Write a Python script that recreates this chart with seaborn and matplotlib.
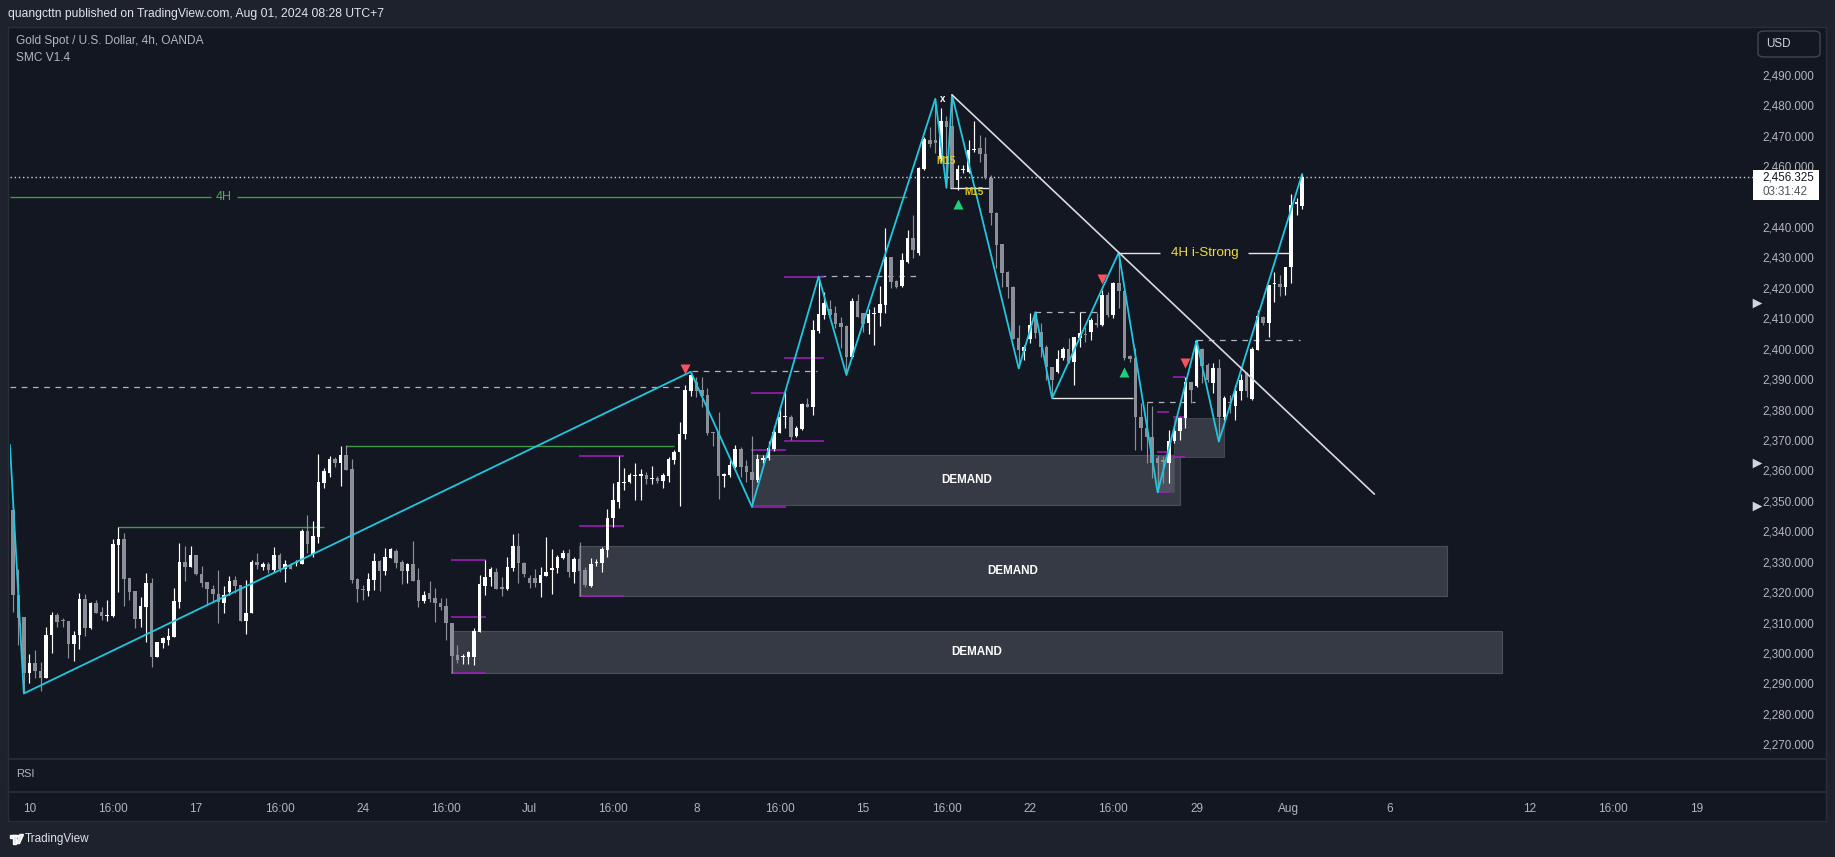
import numpy as np
import pandas as pd
import matplotlib
matplotlib.use("Agg")
import matplotlib.pyplot as plt
import matplotlib.transforms as mtransforms
from matplotlib.lines import Line2D
from matplotlib.patches import Rectangle, FancyBboxPatch, Polygon, Circle
import seaborn as sns

# ===================== canvas / colours =====================
W, H, DPI = 1835, 857, 100
BG_OUT = "#1e222d"
BG_CHART = "#131722"
EDGE = "#2a2e39"
TXT = "#b2b5be"
C_UP = "#ffffff"
C_DN = "#8c8f98"
CYAN = "#1ec8e0"
GREEN = "#3f9b48"
MAGENTA = "#a31fc0"
DASH = "#b2b5be"
ZONE = "#363a45"
ZONE_EDGE = "#4a4e5a"
YELLOW = "#f2dc3a"

# ===================== data =====================
# 4h candles, bar index 0 = first visible candle
OPEN = [
    2347.0, 2319.1, 2311.7, 2293.5, 2296.6, 2294.2, 2291.9, 2305.9, 2312.5, 2310.6,
    2310.5, 2302.9, 2305.9, 2317.7, 2308.1, 2316.5, 2313.4, 2312.3, 2312.3, 2335.5,
    2337.3, 2324.5, 2320.5, 2311.2, 2315.2, 2322.9, 2298.8, 2303.4, 2304.3, 2305.4,
    2316.9, 2329.9, 2328.4, 2332.2, 2325.9, 2323.3, 2321.0, 2319.3, 2316.5, 2319.9,
    2324.0, 2322.3, 2310.6, 2313.2, 2329.9, 2328.4, 2329.2, 2327.3, 2332.2, 2327.7,
    2328.9, 2329.5, 2329.3, 2340.1, 2332.5, 2338.2, 2356.0, 2359.2, 2363.7, 2362.5,
    2365.0, 2360.3, 2324.2, 2320.7, 2320.5, 2324.0, 2330.2, 2327.0, 2331.3, 2333.6,
    2329.9, 2327.0, 2329.2, 2324.0, 2317.1, 2319.6, 2318.0, 2316.3, 2315.4, 2309.7,
    2299.3, 2298.7, 2298.6, 2298.6, 2307.0, 2322.1, 2324.9, 2326.7, 2321.6, 2320.9,
    2327.8, 2335.2, 2329.5, 2324.5, 2324.5, 2323.1, 2325.3, 2327.3, 2327.8, 2331.3,
    2332.7, 2326.7, 2330.8, 2327.3, 2322.0, 2329.6, 2329.7, 2333.8, 2344.2, 2349.7,
    2355.8, 2356.2, 2358.0, 2358.2, 2358.5, 2357.2, 2357.5, 2356.6, 2358.2, 2363.4,
    2366.2, 2371.9, 2386.2, 2389.2, 2386.4, 2384.8, 2372.4, 2372.7, 2358.2, 2358.6,
    2361.2, 2366.9, 2361.4, 2359.6, 2356.8, 2363.4, 2364.2, 2367.0, 2372.4, 2377.4,
    2377.7, 2371.3, 2373.6, 2381.7, 2380.9, 2405.9, 2411.1, 2412.9, 2411.8, 2408.5,
    2407.5, 2397.4, 2415.7, 2411.6, 2408.3, 2411.4, 2411.8, 2414.4, 2430.2, 2422.2,
    2420.7, 2428.6, 2436.3, 2431.3, 2458.9, 2468.6, 2468.6, 2462.3, 2474.9, 2473.2,
    2455.4, 2458.6, 2458.2, 2465.4, 2465.8, 2464.0, 2456.0, 2444.5, 2434.4, 2425.3,
    2420.4, 2403.4, 2399.4, 2403.1, 2411.6, 2405.6, 2400.7, 2394.1, 2392.5, 2396.8,
    2399.8, 2395.7, 2403.4, 2404.6, 2405.4, 2408.3, 2407.8, 2417.7, 2411.1, 2421.5,
    2419.1, 2397.6, 2396.9, 2377.7, 2373.9, 2370.9, 2364.0, 2363.5, 2362.4, 2369.8,
    2372.8, 2377.2, 2389.2, 2387.7, 2399.8, 2394.6, 2388.6, 2393.6, 2377.7, 2382.2,
    2381.2, 2386.2, 2392.1, 2383.4, 2399.6, 2410.3, 2408.6, 2421.1, 2421.3, 2420.2,
    2426.7, 2447.7, 2446.9,
]
HIGH = [
    2347.7, 2327.5, 2311.7, 2299.7, 2301.0, 2296.9, 2308.4, 2313.4, 2313.0, 2311.4,
    2310.5, 2307.3, 2319.6, 2319.3, 2316.9, 2317.4, 2315.2, 2317.4, 2337.3, 2341.4,
    2339.3, 2324.5, 2320.5, 2318.3, 2326.4, 2324.5, 2303.6, 2305.4, 2308.1, 2321.2,
    2336.3, 2335.3, 2335.3, 2332.2, 2328.6, 2323.3, 2322.3, 2327.3, 2322.0, 2325.3,
    2325.3, 2322.3, 2324.0, 2330.5, 2333.0, 2329.8, 2330.0, 2334.9, 2332.7, 2330.5,
    2329.5, 2330.5, 2340.7, 2345.3, 2343.4, 2365.4, 2360.7, 2364.7, 2364.3, 2368.0,
    2368.3, 2363.7, 2324.5, 2322.3, 2326.2, 2332.7, 2330.5, 2334.4, 2334.6, 2334.1,
    2330.5, 2329.7, 2336.8, 2327.8, 2320.4, 2323.6, 2321.2, 2318.0, 2318.0, 2309.7,
    2302.6, 2299.7, 2300.8, 2308.1, 2325.6, 2330.5, 2328.1, 2327.8, 2325.1, 2331.7,
    2339.1, 2339.3, 2330.0, 2325.5, 2327.5, 2328.4, 2338.0, 2334.1, 2332.2, 2333.8,
    2334.1, 2331.7, 2336.5, 2328.4, 2331.1, 2330.8, 2334.9, 2347.2, 2356.0, 2364.7,
    2360.7, 2359.3, 2362.3, 2360.4, 2359.5, 2361.4, 2358.0, 2359.0, 2364.5, 2366.7,
    2375.8, 2388.1, 2392.4, 2390.6, 2390.6, 2387.0, 2372.7, 2379.3, 2359.0, 2363.4,
    2368.3, 2367.8, 2363.4, 2371.4, 2365.4, 2365.0, 2369.8, 2374.6, 2381.2, 2385.9,
    2378.2, 2374.6, 2382.3, 2383.7, 2409.4, 2423.7, 2418.7, 2416.0, 2414.0, 2410.3,
    2407.8, 2416.5, 2417.9, 2411.8, 2412.9, 2413.6, 2420.6, 2439.5, 2430.2, 2422.6,
    2431.3, 2439.0, 2443.9, 2459.6, 2469.7, 2473.0, 2482.1, 2479.0, 2476.3, 2483.4,
    2460.4, 2460.4, 2468.6, 2474.9, 2470.2, 2469.7, 2457.1, 2445.0, 2434.4, 2425.5,
    2420.6, 2407.8, 2401.2, 2411.6, 2412.0, 2408.3, 2401.2, 2394.1, 2399.6, 2400.7,
    2403.4, 2403.9, 2412.0, 2407.2, 2410.0, 2411.6, 2419.3, 2418.5, 2422.0, 2431.6,
    2419.3, 2398.0, 2400.1, 2382.1, 2382.4, 2381.0, 2365.1, 2364.8, 2373.3, 2375.0,
    2377.7, 2390.8, 2389.2, 2402.9, 2400.1, 2395.2, 2395.2, 2396.5, 2384.5, 2384.8,
    2388.1, 2391.7, 2392.5, 2400.7, 2412.7, 2410.9, 2420.9, 2425.1, 2424.2, 2427.0,
    2450.8, 2449.4, 2457.4,
]
LOW = [
    2313.4, 2302.6, 2286.7, 2290.0, 2291.7, 2287.6, 2291.7, 2300.1, 2308.4, 2308.4,
    2298.5, 2297.5, 2301.4, 2305.7, 2307.8, 2313.2, 2310.8, 2310.6, 2311.7, 2319.9,
    2315.5, 2317.4, 2308.1, 2308.6, 2303.7, 2295.3, 2298.8, 2301.5, 2302.6, 2305.4,
    2314.9, 2323.8, 2328.4, 2325.6, 2321.6, 2315.8, 2316.6, 2309.7, 2313.0, 2319.1,
    2319.8, 2310.6, 2306.4, 2313.2, 2327.6, 2327.3, 2326.4, 2326.7, 2326.7, 2323.4,
    2327.6, 2328.7, 2329.1, 2332.7, 2331.4, 2336.3, 2354.3, 2357.9, 2361.0, 2354.9,
    2360.1, 2323.1, 2316.6, 2317.4, 2318.7, 2320.7, 2320.5, 2325.6, 2331.1, 2327.8,
    2322.7, 2322.9, 2323.6, 2315.2, 2316.5, 2316.9, 2310.3, 2314.1, 2304.3, 2293.3,
    2296.6, 2296.4, 2296.4, 2296.1, 2307.0, 2319.0, 2322.1, 2321.0, 2318.7, 2320.7,
    2327.1, 2322.9, 2325.0, 2321.5, 2321.6, 2318.3, 2325.3, 2319.3, 2326.4, 2330.8,
    2325.1, 2323.1, 2318.8, 2321.8, 2321.6, 2328.5, 2326.7, 2331.7, 2341.5, 2347.5,
    2353.6, 2356.0, 2350.3, 2350.3, 2355.5, 2355.5, 2355.8, 2354.1, 2356.3, 2362.1,
    2348.3, 2370.2, 2384.5, 2384.2, 2380.9, 2371.6, 2368.1, 2350.6, 2354.7, 2357.9,
    2360.7, 2357.9, 2356.3, 2348.1, 2356.3, 2362.5, 2363.4, 2366.4, 2372.2, 2373.8,
    2370.0, 2371.1, 2373.3, 2380.7, 2378.2, 2405.0, 2409.7, 2410.5, 2406.7, 2400.1,
    2391.4, 2396.8, 2410.3, 2405.6, 2404.8, 2401.2, 2407.5, 2411.6, 2419.8, 2419.8,
    2420.4, 2428.1, 2429.7, 2430.8, 2458.7, 2466.4, 2464.2, 2461.5, 2452.9, 2452.7,
    2452.2, 2457.6, 2457.6, 2464.7, 2461.5, 2455.7, 2440.6, 2426.4, 2420.4, 2416.5,
    2403.1, 2393.5, 2396.3, 2401.8, 2403.4, 2397.4, 2389.7, 2383.7, 2391.9, 2396.3,
    2395.2, 2388.1, 2400.7, 2402.3, 2402.9, 2407.2, 2407.5, 2410.5, 2410.0, 2413.3,
    2396.3, 2395.5, 2366.7, 2366.7, 2362.4, 2357.4, 2352.8, 2356.0, 2355.8, 2368.9,
    2370.0, 2373.9, 2382.1, 2387.5, 2388.6, 2389.0, 2385.3, 2369.5, 2376.6, 2378.8,
    2376.6, 2383.1, 2384.2, 2383.1, 2399.6, 2407.8, 2404.0, 2415.5, 2417.4, 2417.6,
    2421.5, 2443.9, 2445.8,
]
CLOSE = [
    2319.1, 2311.4, 2293.3, 2296.6, 2294.2, 2291.9, 2305.9, 2312.5, 2310.3, 2310.4,
    2302.9, 2305.9, 2317.7, 2308.1, 2316.5, 2313.2, 2312.3, 2312.4, 2335.8, 2337.3,
    2324.3, 2320.1, 2311.2, 2315.4, 2323.1, 2298.8, 2303.6, 2304.8, 2305.6, 2317.2,
    2329.9, 2328.4, 2332.2, 2325.9, 2323.1, 2320.9, 2319.3, 2316.6, 2319.1, 2323.6,
    2322.1, 2310.6, 2313.2, 2330.0, 2329.0, 2329.3, 2327.3, 2332.2, 2327.6, 2329.2,
    2327.6, 2329.8, 2340.2, 2335.7, 2338.4, 2356.1, 2359.9, 2363.7, 2362.5, 2365.0,
    2360.1, 2324.0, 2321.0, 2320.6, 2324.2, 2330.2, 2327.0, 2331.4, 2334.2, 2329.7,
    2326.9, 2329.2, 2323.6, 2317.1, 2319.1, 2317.7, 2316.3, 2315.2, 2309.7, 2299.1,
    2297.7, 2298.9, 2300.2, 2307.3, 2322.7, 2324.9, 2327.6, 2321.0, 2320.9, 2328.4,
    2335.2, 2329.5, 2326.0, 2322.9, 2323.1, 2325.6, 2326.7, 2327.8, 2331.7, 2333.0,
    2326.7, 2330.8, 2327.1, 2322.3, 2329.1, 2329.8, 2334.1, 2344.2, 2350.3, 2356.2,
    2356.1, 2358.6, 2358.3, 2358.8, 2357.2, 2357.4, 2356.6, 2358.6, 2363.6, 2366.2,
    2371.9, 2386.4, 2391.4, 2386.2, 2384.5, 2372.2, 2372.3, 2358.2, 2358.8, 2361.8,
    2366.9, 2361.2, 2359.6, 2356.8, 2363.6, 2364.2, 2367.3, 2372.7, 2377.7, 2377.6,
    2371.1, 2374.0, 2381.8, 2380.9, 2406.1, 2411.4, 2415.1, 2411.1, 2408.0, 2407.2,
    2397.4, 2415.7, 2410.5, 2408.1, 2411.3, 2411.6, 2414.7, 2430.2, 2422.0, 2420.4,
    2429.1, 2436.3, 2432.4, 2459.3, 2468.8, 2467.3, 2467.5, 2474.9, 2473.0, 2452.7,
    2458.9, 2458.8, 2465.3, 2465.6, 2464.0, 2456.0, 2444.7, 2434.1, 2425.0, 2420.2,
    2403.1, 2399.6, 2400.7, 2407.8, 2405.3, 2400.7, 2393.9, 2389.7, 2396.5, 2399.8,
    2395.7, 2403.9, 2405.3, 2404.4, 2409.4, 2407.8, 2417.6, 2411.1, 2421.5, 2418.8,
    2396.9, 2396.5, 2377.7, 2373.9, 2370.9, 2362.4, 2362.4, 2362.6, 2369.8, 2372.8,
    2377.2, 2389.2, 2386.5, 2402.6, 2394.3, 2389.7, 2393.6, 2377.7, 2383.7, 2382.0,
    2386.2, 2389.7, 2386.2, 2399.8, 2410.7, 2408.6, 2420.9, 2421.2, 2420.2, 2427.0,
    2447.2, 2447.8, 2456.325,
]

# zigzag swing points (bar, price)
ZZ_BAR = [-0.5, 2, 122, 133, 145, 150, 166, 168, 169, 181, 184, 187, 199, 206, 213, 217, 232]
ZZ_PRICE = [2368.4, 2286.7, 2392.4, 2348.1, 2423.7, 2391.4, 2482.1, 2452.9, 2483.4,
            2393.5, 2412.0, 2383.7, 2431.6, 2352.8, 2402.7, 2369.5, 2457.4]

# descending trend line
TREND_BAR = [169, 245]
TREND_PRICE = [2483.4, 2352.2]

# demand zones
ZONE_X0 = [133.1, 101.9, 78.9]
ZONE_X1 = [210.1, 258.0, 267.9]
ZONE_LO = [2348.5, 2318.8, 2293.3]
ZONE_HI = [2365.1, 2335.2, 2307.2]
# small order blocks near the last low
OB_X0 = [208.9, 205.9]
OB_X1 = [218.0, 209.0]
OB_LO = [2364.3, 2352.8]
OB_HI = [2377.1, 2364.8]
OB_COL = ["#363a45", "#4d515c"]

# structure lines
GREEN_X0 = [19, 60, -0.5, 40.3]
GREEN_X1 = [56, 118.9, 35.6, 160.9]
GREEN_P = [2341.4, 2368.1, 2449.8, 2449.8]
LABEL_4H = (38.0, 2449.8)

DASH_X0 = [-0.5, 122.2, 145.2, 184, 213, 204]
DASH_X1 = [120.7, 144.7, 163.5, 196, 231.6, 212.7]
DASH_P = [2387.3, 2392.7, 2424.0, 2412.0, 2402.7, 2382.4]

WHITE_X0 = [187, 168.7, 199, 222.3]
WHITE_X1 = [201.6, 175.8, 206.4, 229.8]
WHITE_P = [2383.7, 2452.9, 2431.6, 2431.6]
STRONG_LABEL = (214.4, 2431.6)

MAG_X0 = [78.9] * 3 + [101.9] * 3 + [132.8] * 3 + [138.8] * 3 + [205.9] * 3 + [208.7] * 3
MAG_X1 = [85.1] * 3 + [110.0] * 3 + [139.1] * 3 + [146.0] * 3 + [208.0] * 3 + [210.9] * 3
MAG_P = [2330.5, 2311.7, 2293.3, 2364.6, 2341.6, 2318.6, 2385.3, 2366.6, 2348.1,
         2423.7, 2396.8, 2369.6, 2379.1, 2365.9, 2352.8, 2390.6, 2377.7, 2364.5]

TRI_DOWN_BAR = [121, 196, 211]
TRI_DOWN_P = [2393.2, 2422.8, 2395.4]
TRI_UP_BAR = [170, 200]
TRI_UP_P = [2447.6, 2392.5]

M15_BAR = [167.9, 172.9]
M15_P = [2461.8, 2451.4]
X_MARK = (167.3, 2482.1)

ALERT_P = [2415.0, 2362.3, 2348.4]

PRICE_TICKS = list(range(2270, 2491, 10))
HIDDEN_TICKS = [2450]          # covered by the last-price label
TIME_TICKS = [3, 18, 33, 48, 63, 78, 93, 108, 123, 138, 153, 168, 183, 198, 213,
              229.6, 247.8, 273, 287.9, 302.9]
TIME_LABELS = ["10", "16:00", "17", "16:00", "24", "16:00", "Jul", "16:00", "8", "16:00",
               "15", "16:00", "22", "16:00", "29", "Aug", "6", "12", "16:00", "19"]

assert len(OPEN) == len(HIGH) == len(LOW) == len(CLOSE)

df = pd.DataFrame({"open": OPEN, "high": HIGH, "low": LOW, "close": CLOSE})
df["bar"] = np.arange(len(df))
df["up"] = df["close"] >= df["open"]

# ===================== style =====================
sns.set_theme(style="dark", rc={"axes.facecolor": BG_CHART, "figure.facecolor": BG_OUT})
plt.rcParams['font.family'] = ['Liberation Sans', 'DejaVu Sans']


def fx(px):
    return px / W


def fy(py):
    return 1 - py / H


fig = plt.figure(figsize=(W / DPI, H / DPI), dpi=DPI, facecolor=BG_OUT)

# chart panel background
fig.patches.append(Rectangle((fx(8), fy(821)), fx(1826) - fx(8), fy(27) - fy(821),
                             transform=fig.transFigure, facecolor=BG_CHART,
                             edgecolor=EDGE, lw=1, zorder=-1))

X_LEFT, X_RIGHT = -0.49, 313.3
Y_LO, Y_HI = 2265.5, 2505.7

ax = fig.add_axes([fx(10), fy(758), fx(1754) - fx(10), fy(27) - fy(758)])
ax.set_facecolor("none")
ax.set_xlim(X_LEFT, X_RIGHT)
ax.set_ylim(Y_LO, Y_HI)
for s in ax.spines.values():
    s.set_visible(False)
ax.grid(False)
ax.set_xticks([])
ax.yaxis.tick_right()
ax.set_yticks(PRICE_TICKS)
ax.set_yticklabels(["" if v in HIDDEN_TICKS else f"{v:,.3f}" for v in PRICE_TICKS])
ax.tick_params(axis="y", length=0, pad=5.8, labelsize=8.4, labelcolor=TXT)
ax.set_xlabel("")
ax.set_ylabel("")

# demand zones
for x0, x1, lo, hi in zip(ZONE_X0, ZONE_X1, ZONE_LO, ZONE_HI):
    ax.add_patch(Rectangle((x0, lo), x1 - x0, hi - lo, facecolor=ZONE,
                           edgecolor=ZONE_EDGE, lw=0.8, zorder=1))
    ax.text((x0 + x1) / 2, (lo + hi) / 2, "DEMAND", color="white", fontsize=8.4,
            fontweight="bold", ha="center", va="center", zorder=6)
for x0, x1, lo, hi, c in zip(OB_X0, OB_X1, OB_LO, OB_HI, OB_COL):
    ax.add_patch(Rectangle((x0, lo), x1 - x0, hi - lo, facecolor=c,
                           edgecolor=ZONE_EDGE, lw=0.6, zorder=1.2))

# horizontal structure lines
ax.hlines(GREEN_P, GREEN_X0, GREEN_X1, color=GREEN, lw=1.0, zorder=2)
ax.text(LABEL_4H[0], LABEL_4H[1], "4H", color="#4caf50", fontsize=9,
        ha="center", va="center", zorder=6)
ax.hlines(DASH_P, DASH_X0, DASH_X1, color=DASH, lw=0.9, linestyles=(0, (4.5, 4.5)), zorder=2)
ax.hlines(MAG_P, MAG_X0, MAG_X1, color=MAGENTA, lw=1.1, zorder=2)
ax.hlines(WHITE_P, WHITE_X0, WHITE_X1, color="#e8e8e8", lw=1.0, zorder=2)
ax.text(STRONG_LABEL[0], STRONG_LABEL[1], "4H i-Strong", color=YELLOW, fontsize=9.6,
        ha="center", va="center", zorder=6)

# current price dotted line
ax.axhline(CLOSE[-1], color="#d1d4dc", lw=1.0, ls=(0, (1, 2)), zorder=2)

# candles
for up, col in [(True, C_UP), (False, C_DN)]:
    sub = df[df["up"] == up]
    ax.vlines(sub["bar"], sub["low"], sub["high"], color=col, lw=0.85, zorder=3)
    body = np.maximum((sub["close"] - sub["open"]).abs(), 0.35)
    ax.bar(sub["bar"], body, bottom=np.minimum(sub["open"], sub["close"]),
           width=0.64, color=col, lw=0, zorder=3)

# zigzag and trend line
sns.lineplot(x=ZZ_BAR, y=ZZ_PRICE, sort=False, estimator=None, color=CYAN,
             lw=1.3, ax=ax, zorder=4)
sns.lineplot(x=TREND_BAR, y=TREND_PRICE, sort=False, estimator=None, color="#d8dade",
             lw=1.2, ax=ax, zorder=4)
ax.set_xlim(X_LEFT, X_RIGHT)
ax.set_ylim(Y_LO, Y_HI)
ax.set_xlabel("")
ax.set_ylabel("")

# signal triangles
ax.plot(TRI_DOWN_BAR, TRI_DOWN_P, ls="none", marker="v", ms=7.5, color="#f7525f", mec="none", zorder=5)
ax.plot(TRI_UP_BAR, TRI_UP_P, ls="none", marker="^", ms=7.5, color="#1fcf7c", mec="none", zorder=5)

for b, p in zip(M15_BAR, M15_P):
    ax.text(b, p, "M15", color="#e3c81f", fontsize=7.2, fontweight="bold",
            ha="center", va="center", zorder=6)
ax.text(X_MARK[0], X_MARK[1], "x", color="white", fontsize=7, fontweight="bold",
        ha="center", va="center", zorder=6)

# price axis extras: alert markers and last price label
blend = mtransforms.blended_transform_factory(ax.transAxes, ax.transData)
ax.scatter([1.0018] * len(ALERT_P), ALERT_P, marker=">", s=48, color="#d1d4dc",
           transform=blend, clip_on=False, zorder=7, linewidths=0)
ax.add_patch(Rectangle((0.99943, CLOSE[-1] - 7.45), (1819 - 1753) / 1744, 9.9,
                       transform=blend, facecolor="white", edgecolor="none",
                       clip_on=False, zorder=10))
ax.text(1 + 8 / 1744, CLOSE[-1], f"{CLOSE[-1]:,.3f}", transform=blend, color="#131722",
        fontsize=8.4, ha="left", va="center", clip_on=False, zorder=11)
ax.text(1 + 8 / 1744, CLOSE[-1] - 5.0, "03:31:42", transform=blend, color="#50535e",
        fontsize=8.4, ha="left", va="center", clip_on=False, zorder=11)

# USD box
fig.patches.append(FancyBboxPatch((fx(1758), fy(57)), fx(1820) - fx(1758), fy(31) - fy(57),
                                  boxstyle="round,pad=0,rounding_size=0.004",
                                  transform=fig.transFigure, facecolor=BG_CHART,
                                  edgecolor="#434651", lw=1, zorder=3))
fig.text(fx(1766), fy(44), "USD", color="#d1d4dc", fontsize=8.4, va="center", ha="left", zorder=4)

# RSI pane + time axis
ax_r = fig.add_axes([fx(10), fy(791), fx(1754) - fx(10), fy(758) - fy(791)])
ax_r.set_facecolor("none")
ax_r.set_xlim(X_LEFT, X_RIGHT)
ax_r.set_ylim(0, 100)
for s in ax_r.spines.values():
    s.set_visible(False)
ax_r.grid(False)
ax_r.set_yticks([])
ax_r.set_xticks(TIME_TICKS)
ax_r.set_xticklabels(TIME_LABELS)
ax_r.tick_params(axis="x", length=0, pad=8.5, labelsize=8.5, labelcolor=TXT)
fig.text(fx(16), fy(774), "RSI", color=TXT, fontsize=8, va="center", ha="left")

for yy in (758.5, 791.5):
    fig.add_artist(Line2D([fx(8), fx(1826)], [fy(yy), fy(yy)], color=EDGE, lw=1.2))

# header / titles
fig.text(fx(8), fy(14), "quangcttn published on TradingView.com, Aug 01, 2024 08:28 UTC+7",
         color="#e0e3eb", fontsize=8.7, va="center", ha="left")
fig.text(fx(16), fy(41), "Gold Spot / U.S. Dollar, 4h, OANDA", color=TXT, fontsize=8.6,
         va="center", ha="left")
fig.text(fx(16), fy(58), "SMC V1.4", color=TXT, fontsize=8.6, va="center", ha="left")

# footer logo
fig.patches.append(Rectangle((fx(10), fy(837.5)), fx(15.5) - fx(10), fy(834.5) - fy(837.5),
                             transform=fig.transFigure, facecolor="#e0e3eb", zorder=3))
fig.patches.append(Rectangle((fx(12.5), fy(843.5)), fx(15.5) - fx(12.5), fy(834.5) - fy(843.5),
                             transform=fig.transFigure, facecolor="#e0e3eb", zorder=3))
fig.patches.append(Circle((fx(17.8), fy(836.2)), 1.6 / W, transform=fig.transFigure,
                          facecolor="#e0e3eb", zorder=3))
fig.patches.append(Polygon([(fx(20), fy(834.5)), (fx(23.5), fy(834.5)),
                            (fx(19.5), fy(843.5)), (fx(16.5), fy(843.5))],
                           closed=True, transform=fig.transFigure, facecolor="#e0e3eb", zorder=3))
fig.text(fx(25), fy(839), "TradingView", color="#e0e3eb", fontsize=8.5, va="center", ha="left")

fig.savefig("out.png", dpi=DPI, facecolor=BG_OUT)
